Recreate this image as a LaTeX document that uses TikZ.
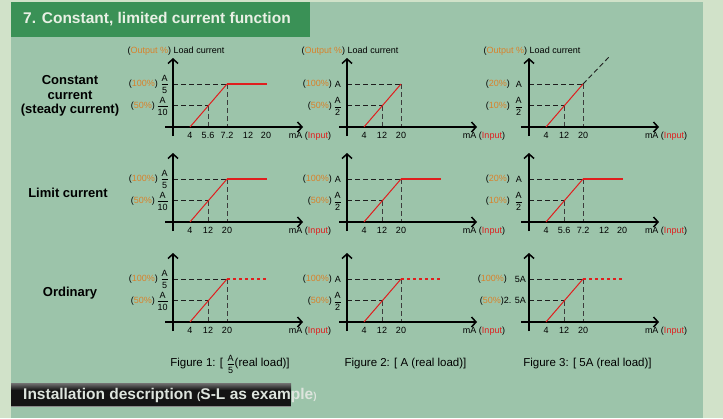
\documentclass[tikz,border=0pt]{standalone}
\usepackage{fontspec}
\setmainfont{Liberation Sans}
\usetikzlibrary{arrows.meta,calc}
\definecolor{outerbg}{HTML}{D1E2C9}
\definecolor{panel}{HTML}{9CC4AA}
\definecolor{hdr}{HTML}{3A9156}
\definecolor{hdrtext}{HTML}{E8F0E4}
\definecolor{orng}{HTML}{D9822B}
\definecolor{redl}{HTML}{E01E1E}
\definecolor{dashc}{HTML}{1E1E1E}
\definecolor{vdashc}{HTML}{3C3C3C}
\definecolor{bantext}{HTML}{DDE4DD}
\tikzset{
  axisline/.style={line width=1.8pt, -{Straight Barb[length=4.5pt,width=10pt,line width=1.5pt]}},
  guide/.style={dashc, line width=0.9pt, dash pattern=on 5pt off 3pt},
  vguide/.style={vdashc, line width=1pt, dash pattern=on 5pt off 3pt},
  redline/.style={redl, line width=1pt},
  redflat/.style={redl, line width=1.3pt},
  reddash/.style={redl, line width=1.3pt, dash pattern=on 3pt off 3pt},
  blkdash/.style={dashc, line width=0.9pt, dash pattern=on 5pt off 3pt},
  lbl/.style={font=\fontsize{9}{10}\selectfont, inner sep=0pt},
  rowlbl/.style={font=\fontsize{13}{14.5}\selectfont\bfseries, align=center, inner sep=0pt},
  caplbl/.style={font=\fontsize{11.5}{13}\selectfont, inner sep=0pt},
}
\newcommand\pct[1]{(\textcolor{orng}{#1})}
\newcommand\myfr[2]{$\displaystyle\frac{\mbox{#1}}{\mbox{#2}}$}
\newcommand\smfr[2]{{\fontsize{9}{10}\selectfont$\displaystyle\frac{\mbox{#1}}{\mbox{#2}}$}}
% #1 name, #2 ox, #3 oy, #4 tick list
\newcommand\graphbase[4]{%
  \coordinate (#1o) at (#2,#3);
  \coordinate (#1s) at (#2+17,#3);
  \coordinate (#1k) at (#2+54,#3-43);
  \coordinate (#1m) at ($(#1s)!0.5!(#1k)$);
  \draw[guide] (#1o |- #1k) -- (#1k);
  \draw[vguide] (#1k) -- (#1k |- #1o);
  \draw[guide] (#1o |- #1m) -- (#1m);
  \draw[vguide] (#1m) -- (#1m |- #1o);
  \draw[axisline] (#2-8,#3) -- (#2+130,#3);
  \draw[axisline] (#2,#3+9) -- (#2,#3-69);
  \draw[redline] (#1s) -- (#1k);
  \node[lbl] (#1ma) at (#2+137,#3+9) {mA (\textcolor{redl}{Input})};
  \foreach \dx/\t [count=\i] in {#4} \node[lbl] (#1t\i) at (#2+\dx,#3+8) {\t};
}
\def\shortt{17/4,35/12,54/20}
\def\longt{17/4,35/5.6,54/7.2,75/12,93/20}
\newcommand\G[4]{\def\tmpG{\graphbase{#1}{#2}{#3}}\expandafter\tmpG\expandafter{#4}}
\begin{document}
\begin{tikzpicture}[x=1pt,y=-1pt]
\useasboundingbox (0,0) rectangle (723,418);
\fill[outerbg] (0,0) rectangle (723,418);
\fill[panel] (11,2) rectangle (703,418);
% header
\fill[hdr] (11,2) rectangle (310,37);
\node[anchor=west, inner sep=0pt, text=hdrtext, font=\fontsize{15.5}{17}\selectfont\bfseries] (title) at (23,19.5) {7. Constant, limited current function};

% row labels
\node[rowlbl] (r1) at (70,96) {Constant\\current\\(steady current)};
\node[rowlbl] (r2) at (68,193) {Limit current};
\node[rowlbl] (r3) at (70,293) {Ordinary};

% column titles
\foreach \ox [count=\c] in {173,347,529}
  \node[lbl] (ct\c) at (\ox+3,51) {(\textcolor{orng}{Output \%}) Load current};

% ===== Row 1 =====
\G{a}{173}{127}{\longt}
\draw[redflat] (ak) -- (173+94,84);
\node[lbl,anchor=east] (ay1) at (173-4,84) {\myfr{A}{5}};
\node[lbl,anchor=east] (ap1) at (173-15,84) {\pct{100\%}};
\node[lbl,anchor=east] (ay2) at (173-4,106) {\myfr{A}{10}};
\node[lbl,anchor=east] (ap2) at (173-18,106) {\pct{50\%}};

\G{b}{347}{127}{\shortt}
\node[lbl,anchor=east] (by1) at (347-6,84) {A};
\node[lbl,anchor=east] (bp1) at (347-15,84) {\pct{100\%}};
\node[lbl,anchor=east] (by2) at (347-5,106) {\myfr{A}{2}};
\node[lbl,anchor=east] (bp2) at (347-15,106) {\pct{50\%}};

\G{c}{529}{127}{\shortt}
\coordinate (cext) at (609,57);
\draw[blkdash] (ck) -- (cext);
\node[lbl,anchor=east] (cy1) at (529-7,84) {A};
\node[lbl,anchor=east] (cp1) at (529-19,84) {\pct{20\%}};
\node[lbl,anchor=east] (cy2) at (529-6,106) {\myfr{A}{2}};
\node[lbl,anchor=east] (cp2) at (529-19,106) {\pct{10\%}};

% ===== Row 2 =====
\G{d}{173}{222}{\shortt}
\draw[redflat] (dk) -- (173+94,179);
\node[lbl,anchor=east] (dy1) at (173-4,179) {\myfr{A}{5}};
\node[lbl,anchor=east] (dp1) at (173-15,179) {\pct{100\%}};
\node[lbl,anchor=east] (dy2) at (173-4,201) {\myfr{A}{10}};
\node[lbl,anchor=east] (dp2) at (173-18,201) {\pct{50\%}};

\G{e}{347}{222}{\shortt}
\draw[redflat] (ek) -- (347+94,179);
\node[lbl,anchor=east] (ey1) at (347-6,179) {A};
\node[lbl,anchor=east] (ep1) at (347-15,179) {\pct{100\%}};
\node[lbl,anchor=east] (ey2) at (347-5,201) {\myfr{A}{2}};
\node[lbl,anchor=east] (ep2) at (347-15,201) {\pct{50\%}};

\G{f}{529}{222}{\longt}
\draw[redflat] (fk) -- (529+94,179);
\node[lbl,anchor=east] (fy1) at (529-7,179) {A};
\node[lbl,anchor=east] (fp1) at (529-19,179) {\pct{20\%}};
\node[lbl,anchor=east] (fy2) at (529-6,201) {\myfr{A}{2}};
\node[lbl,anchor=east] (fp2) at (529-19,201) {\pct{10\%}};

% ===== Row 3 =====
\G{g}{173}{322}{\shortt}
\draw[reddash] (gk) -- (173+94,279);
\node[lbl,anchor=east] (gy1) at (173-4,279) {\myfr{A}{5}};
\node[lbl,anchor=east] (gp1) at (173-15,279) {\pct{100\%}};
\node[lbl,anchor=east] (gy2) at (173-4,301) {\myfr{A}{10}};
\node[lbl,anchor=east] (gp2) at (173-18,301) {\pct{50\%}};

\G{h}{347}{322}{\shortt}
\draw[reddash] (hk) -- (347+95,279);
\node[lbl,anchor=east] (hy1) at (347-6,279) {A};
\node[lbl,anchor=east] (hp1) at (347-15,279) {\pct{100\%}};
\node[lbl,anchor=east] (hy2) at (347-5,301) {\myfr{A}{2}};
\node[lbl,anchor=east] (hp2) at (347-15,301) {\pct{50\%}};

\G{i}{529}{322}{\shortt}
\draw[reddash] (ik) -- (529+94,279);
\node[lbl,anchor=east] (iy1) at (529-3,279) {5A};
\node[lbl,anchor=east] (ip1) at (529-22,279) {\pct{100\%}};
\node[lbl,anchor=east] (iy2) at (529-3,301) {\pct{50\%}2. 5A};

% captions
\node[caplbl] (cap1) at (230,364) {Figure 1: [ \smfr{A}{5}(real load)]};
\node[caplbl] (cap2) at (405.5,364) {Figure 2: [ A (real load)]};
\node[caplbl] (cap3) at (587.5,364) {Figure 3: [ 5A (real load)]};

% bottom banner
\fill[black!92] (11,383) rectangle (291,407);
\shade[top color=black!55, bottom color=black!92] (11,383) rectangle (291,390);
\fill[black!45] (11,406) rectangle (291,407);
\node[anchor=west, inner sep=0pt, text=bantext, font=\fontsize{15.5}{17}\selectfont\bfseries] (inst) at (23,395)
  {Installation description {\fontsize{10}{12}\selectfont(}S-L as example{\fontsize{10}{12}\selectfont)}};
\end{tikzpicture}
\end{document}
